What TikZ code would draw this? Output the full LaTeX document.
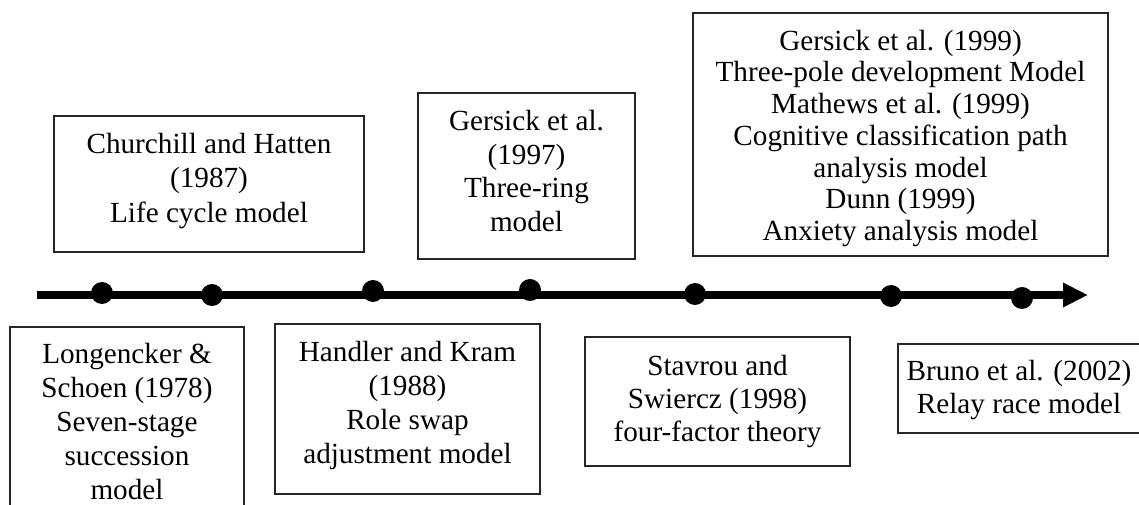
\documentclass[tikz,border=0pt]{standalone}
\usepackage{fontspec}
\setmainfont{Liberation Serif}
\usetikzlibrary{arrows.meta,fit}
% invisible strut fixing the height of the first text line
\newcommand\topstrut{\rule{0pt}{18pt}}
\begin{document}
\begin{tikzpicture}[x=0.75pt,y=-0.75pt,
  framebox/.style={draw=black!85, line width=0.8pt, inner sep=0pt, fit={#1}},
  boxtext/.style={inner sep=0pt, align=center, anchor=north,
    font=\fontsize{21.9pt}{#1}\selectfont},
  boxtext/.default=25.4pt,
  dot/.style={circle, fill=black, inner sep=0pt, minimum size=16.5pt},
  axis/.style={line width=5.8pt, -{Triangle[length=18.75pt,width=17.25pt]}}
]
\useasboundingbox (0,0) rectangle (1139,505);

% time axis
\coordinate (start) at (37,295);
\coordinate (end) at (1088,295);
\draw[axis] (start) -- (end);

% milestones on the axis
\node[dot] (d1) at (102,293) {};
\node[dot] (d2) at (212,295) {};
\node[dot] (d3) at (373,291) {};
\node[dot] (d4) at (530,290) {};
\node[dot] (d5) at (695,294) {};
\node[dot] (d6) at (891,296) {};
\node[dot] (d7) at (1022,298) {};

% boxes above the axis
\node[framebox={(54,116)(364,252)}] (b1) {};
\node[boxtext=25.9pt] (t1) at (209,129)
  {\topstrut Churchill and Hatten\\(1987)\\Life cycle model};

\node[framebox={(418,93)(635,259)}] (b2) {};
\node[boxtext] (t2) at (526.5,106)
  {\topstrut Gersick et al.\\(1997)\\Three-ring\\model};

\node[framebox={(693,13)(1108,256)}] (b3) {};
\node[boxtext=23.8pt] (t3) at (900.5,26)
  {\topstrut Gersick et al. (1999)\\Three-pole development Model\\Mathews et al. (1999)\\Cognitive classification path\\analysis model\\Dunn (1999)\\Anxiety analysis model};

% boxes below the axis
\node[framebox={(10,327)(244,525)}] (b4) {};
\node[boxtext] (t4) at (127,339.5)
  {\topstrut Longencker \&\\Schoen (1978)\\Seven-stage\\succession\\model};

\node[framebox={(275,324)(540,494)}] (b5) {};
\node[boxtext] (t5) at (407.5,337.5)
  {\topstrut Handler and Kram\\(1988)\\Role swap\\adjustment model};

\node[framebox={(585,337)(850,466)}] (b6) {};
\node[boxtext=24.75pt] (t6) at (717.5,351)
  {\topstrut Stavrou and\\Swiercz (1998)\\four-factor theory};

\node[framebox={(898,344)(1141,433)}] (b7) {};
\node[boxtext=24.5pt] (t7) at (1019,356.7)
  {\topstrut Bruno et al. (2002)\\Relay race model};
\end{tikzpicture}
\end{document}
